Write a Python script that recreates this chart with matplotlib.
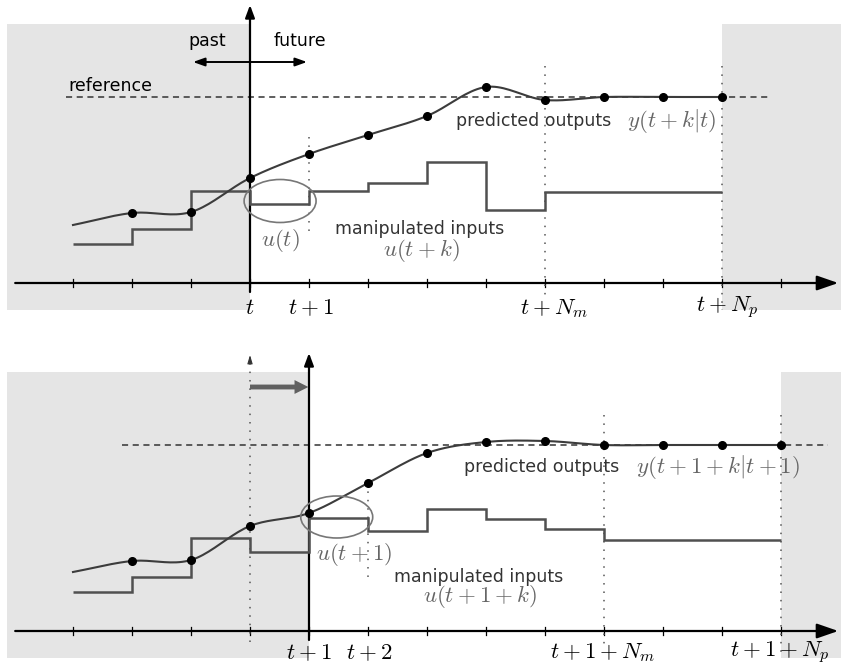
import numpy as np
import matplotlib
matplotlib.use("Agg")
import matplotlib.pyplot as plt
from matplotlib.patches import Ellipse, Rectangle

plt.rcParams['mathtext.fontset'] = 'cm'

# --------- data (time steps, arbitrary output units) ---------
steps = np.arange(-3, 10)

# top panel: prediction at time t (t = 0)
y_top_x = np.arange(-3, 9)
y_top = [5.8, 7.0, 7.1, 10.5, 12.9, 14.8, 16.7, 19.6, 18.3, 18.6, 18.6, 18.6]
u_top_edges = np.arange(-3, 9)
u_top = [3.9, 5.4, 9.2, 7.9, 9.2, 10.0, 12.1, 7.3, 9.1, 9.1, 9.1]
ref_top = 18.6

# bottom panel: prediction at time t+1
y_bot_x = np.arange(-3, 10)
y_bot = [5.9, 7.0, 7.1, 10.5, 11.8, 14.8, 17.8, 18.9, 19.0, 18.6, 18.6, 18.6, 18.6]
u_bot_edges = np.arange(-3, 10)
u_bot = [3.9, 5.4, 9.3, 7.9, 11.3, 10.0, 12.2, 11.2, 10.2, 9.1, 9.1, 9.1]
ref_bot = 18.6

Nm, Np = 5, 8

LINE = '#3c3c3c'
GRAY_TXT = '#666666'
SHADE = '#e5e5e5'
FS_TXT = 12.5
FS_MATH = 16.5


def smooth(x, y, n=20):
    """Catmull-Rom curve through the samples (only for drawing)."""
    x = np.asarray(x, float); y = np.asarray(y, float)
    P = np.column_stack([x, y])
    P = np.vstack([2*P[0]-P[1], P, 2*P[-1]-P[-2]])
    out = []
    s = np.linspace(0, 1, n, endpoint=False)[:, None]
    for i in range(1, len(P)-2):
        p0, p1, p2, p3 = P[i-1], P[i], P[i+1], P[i+2]
        c = 0.5*((2*p1) + (-p0+p2)*s + (2*p0-5*p1+4*p2-p3)*s**2 + (-p0+3*p1-3*p2+p3)*s**3)
        out.append(c)
    out.append(P[-2][None, :])
    c = np.vstack(out)
    return c[:, 0], c[:, 1]


def arrow(ax, xy, xytext, style, lw=1.5, color='k'):
    ax.annotate('', xy=xy, xytext=xytext,
                arrowprops=dict(arrowstyle=style, lw=lw, color=color,
                                shrinkA=0, shrinkB=0))


def vdotted(ax, x, y0, y1):
    ax.plot([x, x], [y0, y1], color='#555555', lw=1.1, ls=(0, (1, 4.5)))


def panel(ax, t0, yx, yv, ue, uv, ref, ref_x0, ylo):
    ax.set_xlim(-250/59, 591/59)
    ax.set_ylim(ylo)
    ax.axis('off')

    # shaded past / beyond horizon
    ax.add_patch(Rectangle((-4.12, -2.7), 4.12 + t0, 28.6, fc=SHADE, ec='none', zorder=0))
    ax.add_patch(Rectangle((t0 + Np, -2.7), 5, 28.6, fc=SHADE, ec='none', zorder=0))

    # time axis
    arrow(ax, (9.97, 0), (-3.98, 0), '-|>,head_length=1.3,head_width=0.45', lw=1.6)
    for s in steps:
        ax.plot([s, s], [-0.4, 0.4], color='k', lw=0.9)

    # vertical "now" axis
    arrow(ax, (t0, 27.8), (t0, -0.9), '-|>,head_length=0.75,head_width=0.28', lw=1.6)

    # reference
    ax.plot([ref_x0, 8.8 + t0], [ref, ref], color='#333333', lw=1.1, ls=(0, (4, 3)))

    # inputs and outputs
    ax.stairs(uv, ue, baseline=None, color='#505050', lw=1.8, zorder=3)
    sx, sy = smooth(yx, yv)
    ax.plot(sx, sy, color=LINE, lw=1.5, zorder=4)
    ax.plot(yx[1:], yv[1:], 'o', color='k', ms=5.5, zorder=5)


fig = plt.figure(figsize=(8.41, 6.68), dpi=100)

# ---------- top panel ----------
ax1 = fig.add_axes([0, 348/668, 1, 320/668])
panel(ax1, 0, y_top_x, y_top, u_top_edges, u_top, ref_top, -3.12, (-3.7, 28.3))
vdotted(ax1, 1, 14.6, 5.1)
vdotted(ax1, Nm, 21.7, -1.2)
vdotted(ax1, Np, 21.7, -2.7)
ax1.add_patch(Ellipse((0.51, 8.2), 1.22, 4.3, fc='none', ec='#777777', lw=1.2, zorder=6))

arrow(ax1, (0.966, 22.1), (-0.966, 22.1), '<|-|>,head_length=0.7,head_width=0.25', lw=1.4)
ax1.text(-0.73, 24.2, 'past', ha='center', va='center', fontsize=FS_TXT)
ax1.text(0.85, 24.2, 'future', ha='center', va='center', fontsize=FS_TXT)
ax1.text(-3.07, 19.7, 'reference', ha='left', va='center', fontsize=FS_TXT)
ax1.text(0.51, 4.3, r'$u(t)$', ha='center', va='center', fontsize=FS_MATH, color=GRAY_TXT)
ax1.text(2.88, 5.4, 'manipulated inputs', ha='center', va='center', fontsize=FS_TXT, color='#333333')
ax1.text(2.9, 3.3, r'$u(t+k)$', ha='center', va='center', fontsize=FS_MATH, color=GRAY_TXT)
ax1.text(4.8, 16.2, 'predicted outputs', ha='center', va='center', fontsize=FS_TXT, color='#333333')
ax1.text(7.14, 16.2, r'$y(t+k|t)$', ha='center', va='center', fontsize=FS_MATH, color=GRAY_TXT)

ax1.text(0, -2.5, r'$t$', ha='center', va='center', fontsize=FS_MATH)
ax1.text(1.03, -2.5, r'$t+1$', ha='center', va='center', fontsize=FS_MATH)
ax1.text(5.15, -2.5, r'$t+N_m$', ha='center', va='center', fontsize=FS_MATH)
ax1.text(8.08, -2.5, r'$t+N_p$', ha='center', va='center', fontsize=FS_MATH)

# ---------- bottom panel ----------
ax2 = fig.add_axes([0, 0, 1, 348/668])
panel(ax2, 1, y_bot_x, y_bot, u_bot_edges, u_bot, ref_bot, -2.17, (-3.7, 31.1))
vdotted(ax2, 2, 14.8, 5.1)
vdotted(ax2, 1 + Nm, 21.6, -1.9)
vdotted(ax2, 1 + Np, 21.6, -2.6)
# old "now" axis
ax2.plot([0, 0], [-1.1, 27.0], color='#555555', lw=1.1, ls=(0, (1, 4.5)))
arrow(ax2, (0, 27.6), (0, 26.9), '-|>,head_length=0.5,head_width=0.15', lw=0.8, color='#333333')
ax2.add_patch(Ellipse((1.47, 11.4), 1.22, 4.2, fc='none', ec='#777777', lw=1.2, zorder=6))
ax2.annotate('', xy=(0.99, 24.4), xytext=(0.0, 24.4),
             arrowprops=dict(arrowstyle='simple,head_length=1.0,head_width=1.0,tail_width=0.35',
                             lw=0, fc='#606060', shrinkA=0, shrinkB=0))

ax2.text(1.77, 7.6, r'$u(t+1)$', ha='center', va='center', fontsize=FS_MATH, color=GRAY_TXT)
ax2.text(3.88, 5.4, 'manipulated inputs', ha='center', va='center', fontsize=FS_TXT, color='#333333')
ax2.text(3.9, 3.4, r'$u(t+1+k)$', ha='center', va='center', fontsize=FS_MATH, color=GRAY_TXT)
ax2.text(4.95, 16.4, 'predicted outputs', ha='center', va='center', fontsize=FS_TXT, color='#333333')
ax2.text(7.93, 16.4, r'$y(t+1+k|t+1)$', ha='center', va='center', fontsize=FS_MATH, color=GRAY_TXT)

ax2.text(1.0, -2.2, r'$t+1$', ha='center', va='center', fontsize=FS_MATH)
ax2.text(2.02, -2.2, r'$t+2$', ha='center', va='center', fontsize=FS_MATH)
ax2.text(5.98, -2.2, r'$t+1+N_m$', ha='center', va='center', fontsize=FS_MATH)
ax2.text(8.98, -2.2, r'$t+1+N_p$', ha='center', va='center', fontsize=FS_MATH)

fig.savefig('out.png', dpi=100)
